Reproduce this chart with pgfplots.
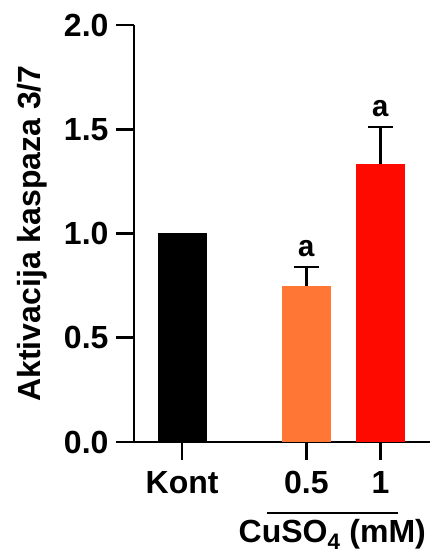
\documentclass[border=0pt]{standalone}
\usepackage{fontspec}
\setmainfont{Liberation Sans}
\newfontfamily\monofont{Liberation Mono}
\usepackage{pgfplots}
\pgfplotsset{compat=1.18}
\definecolor{barorange}{RGB}{255,118,53}
\definecolor{barred}{RGB}{255,10,0}

\begin{document}
\begin{tikzpicture}
\begin{axis}[
    scale only axis, width=296pt, height=417pt,
    xmin=0, xmax=4, ymin=0, ymax=2,
    axis lines*=left,
    axis line style={line width=2.6pt, black},
    tick style={line width=2.6pt, black},
    tick align=outside, major tick length=18pt,
    xtick={0.65,2.33,3.33}, xticklabels={Kont,0.5,1},
    ytick={0,0.5,1,1.5,2},
    yticklabel style={/pgf/number format/.cd, fixed, fixed zerofill, precision=1, /tikz/.cd, xshift=-4pt},
    xticklabel style={yshift=-8pt},
    tick label style={/pgf/number format/assume math mode=true},
    font=\fontsize{32}{38}\selectfont\bfseries,
    ylabel={Aktivacija kaspaza 3/7},
    ylabel style={at={(rel axis cs:0,0.5)}, yshift=102pt, anchor=center},
    clip=false,
]
\addplot[ybar, bar shift=0pt, bar width=49pt, fill=black, draw=none]
    coordinates {(0.65,1.0)};
\addplot[ybar, bar shift=0pt, bar width=49pt, fill=barorange, draw=none,
    error bars/.cd, y dir=plus, y explicit,
    error bar style={line width=2.6pt, black},
    error mark options={line width=2.6pt, mark size=12.5pt, black, rotate=90}]
    coordinates {(2.33,0.748) +- (0,0.091)};
\addplot[ybar, bar shift=0pt, bar width=49pt, fill=barred, draw=none,
    error bars/.cd, y dir=plus, y explicit,
    error bar style={line width=2.6pt, black},
    error mark options={line width=2.6pt, mark size=12.5pt, black, rotate=90}]
    coordinates {(3.33,1.333) +- (0,0.178)};
\node[font=\monofont\bfseries\fontsize{30}{36}\selectfont] at (axis cs:2.33,0.93) {a};
\node[font=\monofont\bfseries\fontsize{30}{36}\selectfont] at (axis cs:3.33,1.60) {a};
\draw[line width=2.6pt] (axis cs:1.80,-0.34) -- (axis cs:3.57,-0.34);
\node[inner sep=0pt] at (axis cs:2.68,-0.445) {CuSO\textsubscript{4} (mM)};
\coordinate (O) at (rel axis cs:0,0);
\end{axis}
\pgfresetboundingbox
\path[use as bounding box] (O) ++(-134pt,-111pt) rectangle ++(430pt,553pt);
\end{tikzpicture}
\end{document}
